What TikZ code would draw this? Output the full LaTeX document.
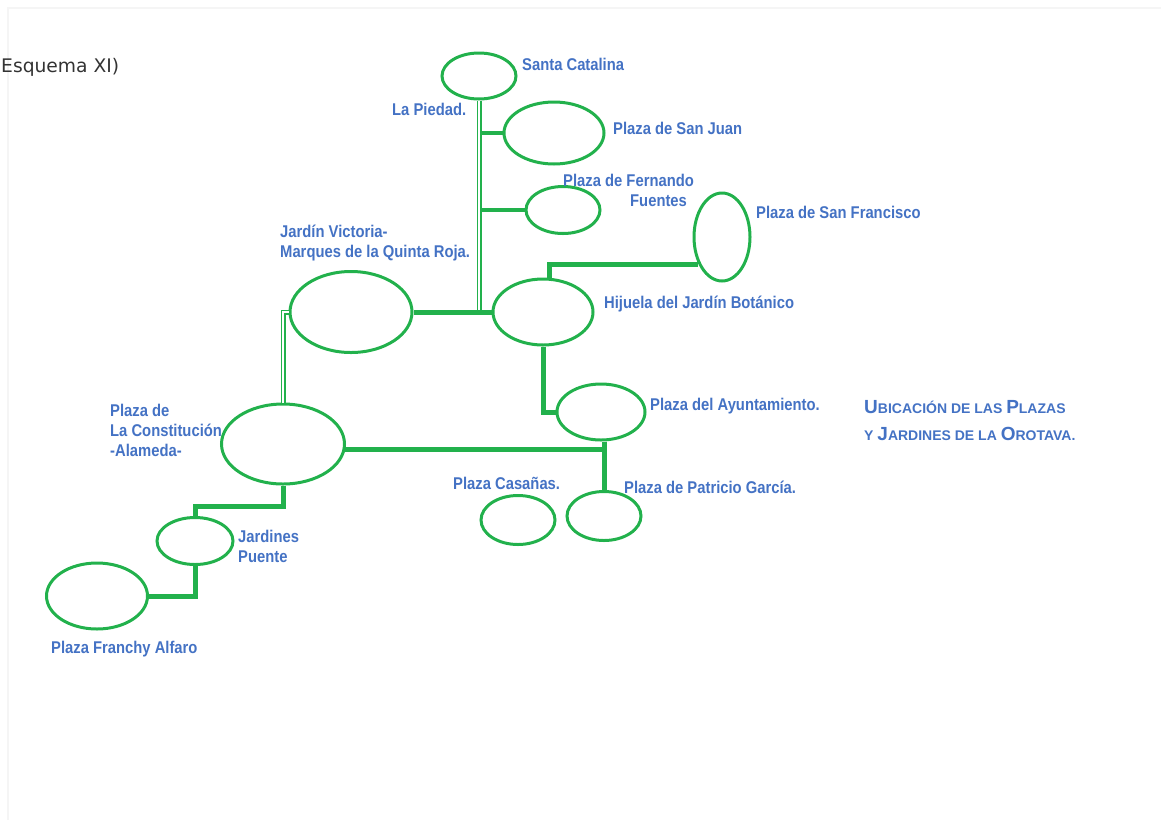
\documentclass[tikz,border=0pt]{standalone}
\usepackage{fontspec}
\usetikzlibrary{shapes.geometric,calc}
\newfontfamily\etiqfont[FakeStretch=0.87]{Liberation Sans}
\newfontfamily\titfont{Liberation Sans}
\newfontfamily\esqfont{DejaVu Sans}
\definecolor{verde}{RGB}{34,177,76}
\definecolor{azul}{RGB}{68,114,196}
\newcommand\grande[1]{{\fontsize{19}{27}\selectfont #1}}
\tikzset{
plaza/.style={ellipse,draw=verde,line width=3pt,inner sep=0pt},
tubo/.style={draw=verde,line width=5pt},
ramo/.style={draw=verde,line width=4pt},
doble/.style={draw=verde,double,double distance=2pt,line width=1.5pt},
borde/.style={draw=black!4,line width=1.5pt},
etiqueta/.style={anchor=west,inner sep=0pt,text=azul,align=left,font=\etiqfont\bfseries\fontsize{17}{20}\selectfont},
titulo/.style={anchor=west,inner sep=0pt,text=azul,align=left,font=\titfont\bfseries\fontsize{14}{27}\selectfont},
esquema/.style={anchor=west,inner sep=0pt,text=black!80,font=\esqfont\fontsize{18.7}{24}\selectfont}}

\begin{document}
\begin{tikzpicture}[x=1pt,y=-1pt]
\useasboundingbox (0,0) rectangle (1161,820);
\draw[borde] (8,820) -- (8,8) -- (1161,8);

\node[esquema] (e) at (1,67) {Esquema XI)};

\node[plaza,minimum width=74,minimum height=46] (1) at (479,76) {};
\node[plaza,minimum width=100,minimum height=62] (2) at (554,133) {};
\node[plaza,minimum width=74,minimum height=47] (3) at (563,210) {};
\node[plaza,minimum width=56,minimum height=88] (4) at (722,237) {};
\node[plaza,minimum width=100,minimum height=66] (5) at (543,312) {};
\node[plaza,minimum width=122,minimum height=81] (6) at (351,312) {};
\node[plaza,minimum width=123,minimum height=80] (7) at (283,444) {};
\node[plaza,minimum width=76,minimum height=47] (8) at (195,541) {};
\node[plaza,minimum width=101,minimum height=66] (9) at (97,596) {};
\node[plaza,minimum width=88,minimum height=56] (10) at (601,412) {};
\node[plaza,minimum width=74,minimum height=49] (11) at (518,520) {};
\node[plaza,minimum width=74,minimum height=49] (12) at (604,516) {};

\node[etiqueta] (l1) at (522,64) {Santa Catalina};
\node[etiqueta] (l2) at (392,109) {La Piedad.};
\node[etiqueta] (l3) at (613,128) {Plaza de San Juan};
\node[etiqueta] (l4) at (563,190) {Plaza de Fernando\\\hspace*{67pt}Fuentes};
\node[etiqueta] (l5) at (756,212) {Plaza de San Francisco};
\node[etiqueta] (l6) at (280,243) {Jardín Victoria-\\Marques de la Quinta Roja.};
\node[etiqueta] (l7) at (604,304) {Hijuela del Jardín Botánico};
\node[etiqueta] (l8) at (110,430) {Plaza de\\La Constitución\\-Alameda-};
\node[etiqueta] (l9) at (650,406) {Plaza del Ayuntamiento.};
\node[etiqueta] (l10) at (453,483) {Plaza Casañas.};
\node[etiqueta] (l11) at (624,487) {Plaza de Patricio García.};
\node[etiqueta] (l12) at (238,546) {Jardines\\Puente};
\node[etiqueta] (l13) at (51,649) {Plaza Franchy Alfaro};
\node[titulo] (t) at (864,421) {\grande{U}BICACIÓN DE LAS \grande{P}LAZAS\\ Y \grande{J}ARDINES DE LA \grande{O}ROTAVA.};

\path[ramo] (2.west -| 1.south) edge (2.west)
            (3.west -| 1.south) edge (3.west);
\draw[doble] (1.south) -- (1.south |- 5.west);
\draw[doble] (6.west) -| (7.north);
\path[tubo] (6.east) edge (5.west);
\draw[tubo] (5.80) |- (4.229);
\draw[tubo] (5.south) |- (10.west);
\draw[tubo] (7.-5) -- (7.-5 -| 12.north);
\path[tubo] (12.north |- 10.south) edge (12.north);
\draw[tubo] (7.south) -- ++(0,21) -| (8.north);
\draw[tubo] (8.south) |- (9.east);

\end{tikzpicture}
\end{document}
